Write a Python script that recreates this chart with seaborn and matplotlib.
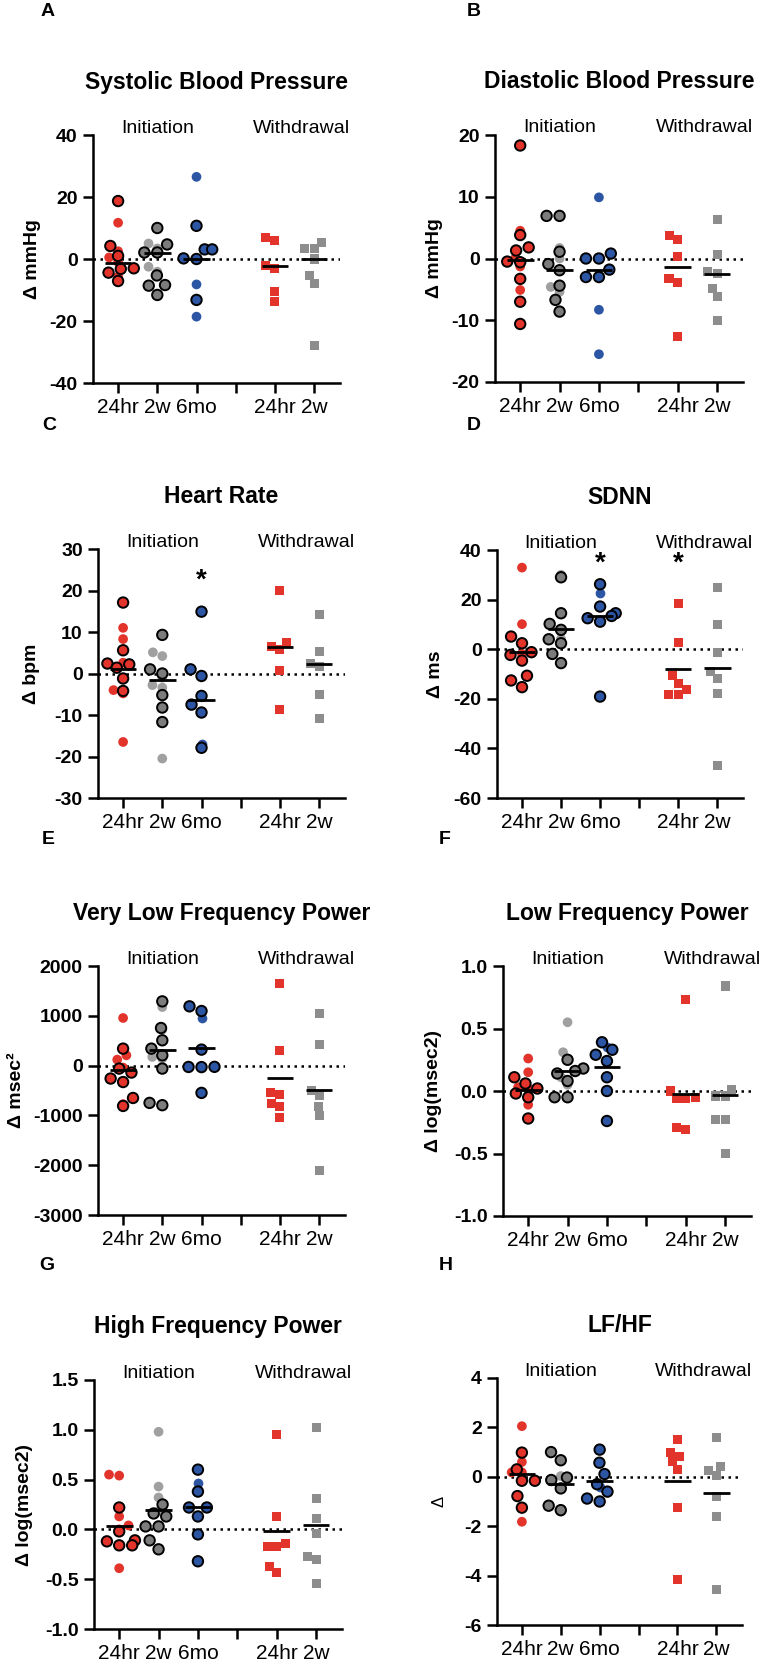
import numpy as np
import pandas as pd
import matplotlib
matplotlib.use("Agg")
import matplotlib.pyplot as plt
import seaborn as sns

# categories (position 3 is the empty gap between the two blocks)
ORDER = ["i24", "i2w", "i6mo", "gap", "w24", "w2w"]
TICK_LABELS = ["24hr", "2w", "6mo", "", "24hr", "2w"]
INIT = ["i24", "i2w", "i6mo"]
WD = ["w24", "w2w"]

# --- A: Systolic Blood Pressure (edged / plain circles, withdrawal squares, centre lines)
sbp_edge = [[18.7, 4.2, 1.0, -3.0, -3.2, -4.4, -7.1],
            [10.0, 4.7, 2.1, 2.1, -5.3, -8.4, -8.6, -11.6],
            [10.7, 3.1, 3.1, 0.2, 0.0, -13.2]]
sbp_plain = [[11.7, 2.5, 0.5, -1.0, -5.7], [5.0, 3.4, -2.5, -4.1], [26.5, -8.2, -18.6]]
sbp_wd = [[7.0, 6.1, -2.1, -3.0, -10.5, -13.7], [5.4, 3.4, 3.4, 0.0, -5.3, -7.9, -28.0]]
sbp_line = [-1.4, 1.8, 0.0, -2.1, 0.0]

# --- B: Diastolic Blood Pressure
dbp_edge = [[18.3, 3.8, 1.8, 1.3, -0.5, -0.6, -3.3, -7.0, -10.6],
            [6.9, 6.9, 1.1, -0.9, -1.9, -4.4, -6.7, -8.6],
            [0.8, 0.0, 0.0, -1.8, -3.0, -3.0]]
dbp_plain = [[4.5, 0.1, -1.3, -5.1], [1.7, 0.0, -4.6, -5.4, -8.6], [9.9, -8.3, -15.5]]
dbp_wd = [[3.8, 3.1, 0.4, -3.3, -3.9, -12.7], [6.3, 0.6, -2.1, -2.5, -4.8, -6.1, -10.0]]
dbp_line = [-0.3, -1.9, -1.8, -1.4, -2.5]

# --- C: Heart Rate
hr_edge = [[17.1, 5.6, 2.4, 2.2, 1.4, -1.2, -4.2],
           [9.3, 1.0, 0.0, -5.2, -8.2, -11.7],
           [14.9, 1.0, -0.6, -5.4, -7.5, -9.4, -17.9]]
hr_plain = [[11.0, 8.3, 2.6, -4.0, -4.8, -16.5], [5.1, 4.2, -1.0, -2.8, -3.4, -20.5], [-16.9]]
hr_wd = [[20.0, 7.4, 6.6, 5.8, 0.8, -8.6], [14.1, 5.2, 2.4, 1.6, -5.0, -10.9]]
hr_line = [1.0, -1.6, -6.4, 6.4, 2.4]

# --- D: SDNN
sdnn_edge = [[5.1, 2.4, -1.2, -2.3, -4.6, -10.7, -12.6, -15.3],
             [29.0, 14.5, 10.2, 7.8, 4.0, 2.4, -1.9, -5.6],
             [26.2, 17.2, 14.5, 13.4, 12.5, 11.1, -19.1]]
sdnn_plain = [[32.9, 10.1, -1.9], [30.0, 4.2], [22.8]]
sdnn_wd = [[18.5, 2.7, -10.7, -13.7, -16.4, -18.4, -18.4], [24.8, 9.8, -1.2, -9.0, -11.7, -17.7, -47.0]]
sdnn_line = [-1.3, 8.1, 13.4, -8.1, -7.4]

# --- E: Very Low Frequency Power
vlf_edge = [[341, -60, -140, -260, -330, -650, -810],
            [1290, 755, 508, 341, 207, -60, -749, -795],
            [1190, 1096, 321, -25, -27, -30, -548]]
vlf_plain = [[956, 207, 120, -40, -775], [1176, 722, 174, 140], [956]]
vlf_wd = [[1658, 307, -548, -575, -762, -829, -1050], [1043, 421, -495, -595, -815, -996, -2099]]
vlf_line = [-94, 307, 361, -247, -495]

# --- F: Low Frequency Power
lf_edge = [[0.11, 0.06, 0.02, -0.02, -0.05, -0.22],
           [0.25, 0.18, 0.16, 0.14, 0.08, -0.05, -0.05],
           [0.39, 0.33, 0.29, 0.24, 0.11, 0.0, -0.24]]
lf_plain = [[0.26, 0.15, 0.03, 0.02, -0.11], [0.55, 0.31, 0.24, 0.11, 0.05], [0.35]]
lf_wd = [[0.73, 0.0, -0.05, -0.06, -0.06, -0.29, -0.31], [0.84, 0.01, -0.04, -0.04, -0.23, -0.23, -0.50]]
lf_line = [0.01, 0.16, 0.19, -0.02, -0.03]

# --- G: High Frequency Power
hf_edge = [[0.22, -0.02, -0.11, -0.12, -0.16, -0.16],
           [0.25, 0.16, 0.13, 0.03, 0.03, -0.11, -0.20],
           [0.60, 0.38, 0.22, 0.22, 0.13, -0.05, -0.32]]
hf_plain = [[0.55, 0.54, 0.13, 0.04, 0.0, -0.39], [0.98, 0.43, 0.32, 0.18], [0.47]]
hf_wd = [[0.95, 0.13, -0.14, -0.17, -0.17, -0.37, -0.43], [1.02, 0.31, 0.11, -0.04, -0.27, -0.30, -0.54]]
hf_line = [0.03, 0.19, 0.22, -0.02, 0.04]

# --- H: LF/HF
lfhf_edge = [[0.98, 0.3, -0.16, -0.16, -0.78, -1.25],
             [1.0, 0.67, -0.03, -0.13, -0.47, -1.17, -1.35],
             [1.1, 0.57, 0.11, -0.3, -0.6, -0.88, -1.0]]
lfhf_plain = [[2.05, 0.6, 0.18, 0.18, -1.82], [0.03, -0.47, -1.41], [-0.4]]
lfhf_wd = [[1.51, 1.0, 0.84, 0.6, 0.3, -1.24, -4.14], [1.59, 0.4, 0.27, 0.07, -0.81, -1.62, -4.56]]
lfhf_line = [0.1, -0.3, -0.16, -0.16, -0.67]

titles = ["Systolic Blood Pressure", "Diastolic Blood Pressure", "Heart Rate", "SDNN",
          "Very Low Frequency Power", "Low Frequency Power", "High Frequency Power", "LF/HF"]
letters = ["A", "B", "C", "D", "E", "F", "G", "H"]
ylabels = ["Δ mmHg", "Δ mmHg", "Δ bpm", "Δ ms", "Δ msec²", "Δ log(msec2)", "Δ log(msec2)", "Δ"]
yticks = [[-40, -20, 0, 20, 40], [-20, -10, 0, 10, 20], [-30, -20, -10, 0, 10, 20, 30],
          [-60, -40, -20, 0, 20, 40], [-3000, -2000, -1000, 0, 1000, 2000],
          [-1.0, -0.5, 0.0, 0.5, 1.0], [-1.0, -0.5, 0.0, 0.5, 1.0, 1.5], [-6, -4, -2, 0, 2, 4]]
tick_fmt = ["{:.0f}"] * 5 + ["{:.1f}", "{:.1f}", "{:.0f}"]
# significance stars: (panel index, category, y value)
stars = [(2, "i6mo", 22.5), (3, "i6mo", 34.4), (3, "w24", 34.4)]

panels = [
    (sbp_edge, sbp_plain, sbp_wd, sbp_line),
    (dbp_edge, dbp_plain, dbp_wd, dbp_line),
    (hr_edge, hr_plain, hr_wd, hr_line),
    (sdnn_edge, sdnn_plain, sdnn_wd, sdnn_line),
    (vlf_edge, vlf_plain, vlf_wd, vlf_line),
    (lf_edge, lf_plain, lf_wd, lf_line),
    (hf_edge, hf_plain, hf_wd, hf_line),
    (lfhf_edge, lfhf_plain, lfhf_wd, lfhf_line),
]

# layout in pixels: left, top, right, bottom of each axes
boxes = [(93, 135, 340, 383), (495, 135, 743, 382),
         (98, 549, 345, 798), (497, 550, 743, 798),
         (98, 966, 345, 1215), (503, 966, 751, 1216),
         (94, 1380, 342, 1629), (497, 1378, 742, 1625)]
letter_pos = [(48, 12), (474, 12), (49, 425), (474, 425), (48, 839), (445, 839), (47, 1265), (446, 1265)]
ylabel_x = [-0.21, -0.21, -0.235, -0.215, -0.295, -0.245, -0.245, -0.205]

RED = "#e2342b"
BLUE = "#2c55a3"
pal_edge = {"i24": RED, "i2w": "#7c7c7c", "i6mo": BLUE}
pal_plain = {"i24": RED, "i2w": "#a0a0a0", "i6mo": BLUE}
pal_wd = {"w24": RED, "w2w": "#8d8d8d"}

sns.set_style("ticks")
plt.rcParams['font.family'] = ['Liberation Sans', 'DejaVu Sans']
plt.rcParams['axes.unicode_minus'] = False
for key in ("text.color", "axes.labelcolor", "xtick.color", "ytick.color", "axes.edgecolor"):
    plt.rcParams[key] = "black"

W, H = 760, 1666
fig = plt.figure(figsize=(W / 100, H / 100), dpi=100)


def long_df(groups, names):
    rows = []
    for name, vals in zip(names, groups):
        for v in vals:
            rows.append({"grp": name, "val": v})
    return pd.DataFrame(rows)


for i, (edge, plain, wd, line) in enumerate(panels):
    l, t, r, b = boxes[i]
    ax = fig.add_axes([l / W, 1 - b / H, (r - l) / W, (b - t) / H])

    ax.axhline(0, color="black", ls=(0, (1, 1.8)), lw=1.8, zorder=1)

    sns.swarmplot(data=long_df(plain, INIT), x="grp", y="val", hue="grp", order=ORDER,
                  palette=pal_plain, marker="o", size=7, linewidth=0, legend=False,
                  ax=ax, zorder=3)
    sns.swarmplot(data=long_df(edge, INIT), x="grp", y="val", hue="grp", order=ORDER,
                  palette=pal_edge, marker="o", size=7.5, linewidth=1.4, edgecolor="black",
                  legend=False, ax=ax, zorder=4)
    sns.swarmplot(data=long_df(wd, WD), x="grp", y="val", hue="grp", order=ORDER,
                  palette=pal_wd, marker="s", size=6.5, linewidth=0, legend=False,
                  ax=ax, zorder=3)

    for name, val in zip(INIT + WD, line):
        k = ORDER.index(name)
        ax.hlines(val, k - 0.34, k + 0.34, color="black", lw=2, zorder=5)

    for p, name, y in stars:
        if p == i:
            ax.text(ORDER.index(name), y, "*", ha="center", va="center",
                    fontsize=20, fontweight="bold")

    yt = yticks[i]
    ax.set_ylim(yt[0], yt[-1])
    ax.set_yticks(yt, labels=[tick_fmt[i].format(v) for v in yt], fontsize=14, fontweight="bold")
    ax.set_xlim(-0.64, 5.66)
    ax.set_xticks(range(len(ORDER)), labels=TICK_LABELS, fontsize=15)
    ax.set_xlabel("")
    ax.set_ylabel(ylabels[i], fontsize=14 if i != 7 else 12,
                  fontweight="bold" if i != 7 else "normal")
    ax.yaxis.set_label_coords(ylabel_x[i], 0.5)

    sns.despine(ax=ax)
    for s in ("left", "bottom"):
        ax.spines[s].set_linewidth(1.8)
    ax.tick_params(axis="both", length=7, width=1.8, pad=4)

    ax.text(1.0, 1 + 7 / (b - t), "Initiation", ha="center", va="center", fontsize=14,
            transform=ax.get_xaxis_transform())
    ax.text(4.67, 1 + 7 / (b - t), "Withdrawal", ha="center", va="center", fontsize=14,
            transform=ax.get_xaxis_transform())
    ax.text(0.5, 1 + 53 / (b - t), titles[i], ha="center", va="center",
            fontsize=16.5, fontweight="bold", transform=ax.transAxes)

    lx, ly = letter_pos[i]
    fig.text(lx / W, 1 - ly / H, letters[i], ha="center", va="center",
             fontsize=14, fontweight="bold")

fig.savefig("out.png", dpi=100)
